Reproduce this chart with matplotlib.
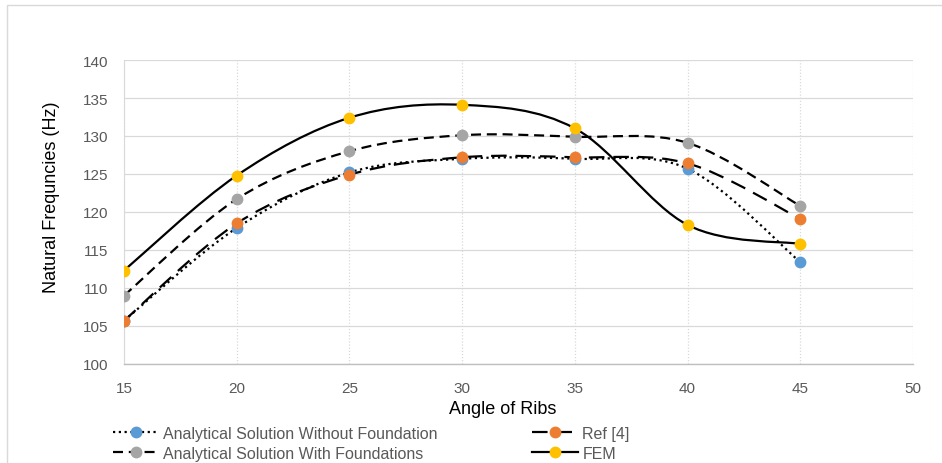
import numpy as np
import matplotlib
matplotlib.use("Agg")
import matplotlib.pyplot as plt
from matplotlib.path import Path
from matplotlib.patches import PathPatch, Rectangle
from matplotlib.lines import Line2D

plt.rcParams['font.family'] = ['Liberation Sans', 'DejaVu Sans']

angles = [15, 20, 25, 30, 35, 40, 45]
without_foundation = [105.7, 117.9, 125.2, 127.0, 127.0, 125.7, 113.4]
ref_4 = [105.7, 118.5, 124.9, 127.2, 127.2, 126.4, 119.1]
with_foundations = [109.0, 121.7, 128.0, 130.1, 129.9, 129.1, 120.8]
fem = [112.3, 124.8, 132.4, 134.1, 131.0, 118.3, 115.8]

labels = ["Analytical Solution Without Foundation", "Ref [4]",
          "Analytical Solution With Foundations", "FEM"]
colors = ["#5B9BD5", "#ED7D31", "#A5A5A5", "#FFC000"]
dash_styles = [(0, (1, 1.6)), (0, (7, 4)), (0, (4.5, 2.6)), "solid"]
series = [without_foundation, ref_4, with_foundations, fem]


def smooth_path(xs, ys):
    # Excel-style smoothed line: bezier segments with catmull-rom control points
    p = np.column_stack([xs, ys]).astype(float)
    n = len(p)
    verts = [p[0]]
    codes = [Path.MOVETO]
    for i in range(n - 1):
        p0 = p[i - 1] if i > 0 else p[i]
        p3 = p[i + 2] if i + 2 < n else p[i + 1]
        c1 = p[i] + (p[i + 1] - p0) / 6
        c2 = p[i + 1] - (p3 - p[i]) / 6
        verts += [c1, c2, p[i + 1]]
        codes += [Path.CURVE4] * 3
    return Path(verts, codes)


fig = plt.figure(figsize=(9.42, 4.64), dpi=100)
ax = fig.add_axes([124 / 942, 1 - 365 / 464, (913 - 124) / 942, (365 - 61) / 464])

fig.add_artist(Rectangle((7 / 942, -0.1), 2, 1.1 - 6 / 464, transform=fig.transFigure,
                         fill=False, edgecolor="#D9D9D9", linewidth=1.0, clip_on=False))

handles = []
for vals, col, ls, lab in zip(series, colors, dash_styles, labels):
    patch = PathPatch(smooth_path(angles, vals), facecolor="none", edgecolor="black",
                      linewidth=1.6, linestyle=ls, zorder=3)
    ax.add_patch(patch)
    ax.plot(angles, vals, linestyle="none", marker="o", markersize=7.5,
            color=col, zorder=4)
    handles.append(Line2D([], [], color="black", linewidth=1.6, linestyle=ls,
                          marker="o", markersize=7.5, markerfacecolor=col,
                          markeredgecolor=col))

ax.set_xlim(15, 50)
ax.set_ylim(100, 140)
ax.set_xticks(range(15, 51, 5))
ax.set_yticks(range(100, 141, 5))
ax.grid(axis="y", color="#D9D9D9", linewidth=0.9, linestyle="solid")
ax.grid(axis="x", color="#D9D9D9", linewidth=0.9, linestyle=(0, (1, 1.5)))
ax.set_axisbelow(True)
for side in ["top", "right"]:
    ax.spines[side].set_visible(False)
ax.spines["left"].set_color("#D9D9D9")
ax.spines["bottom"].set_color("#BFBFBF")
ax.spines["bottom"].set_linewidth(1.0)
ax.tick_params(length=0, labelsize=11, labelcolor="#595959")
ax.tick_params(axis="y", pad=11)
ax.tick_params(axis="x", pad=12)

fig.text(503 / 942, 1 - 410 / 464, "Angle of Ribs", ha="center", va="center",
         fontsize=13, color="black")
fig.text(52 / 942, 1 - 197 / 464, "Natural Frequncies (Hz)", ha="center", va="center",
         rotation=90, fontsize=13, color="black")

order = [0, 2, 1, 3]
leg = fig.legend([handles[i] for i in order], [labels[i] for i in order], ncol=2,
                 loc="upper left", bbox_to_anchor=(105 / 942, 1 - 419 / 464),
                 frameon=False, fontsize=11.5, handlelength=2.9, handletextpad=0.25,
                 columnspacing=5.9, labelspacing=0.3, borderpad=0, numpoints=1)
for t in leg.get_texts():
    t.set_color("#595959")

fig.savefig("out.png", dpi=100)
